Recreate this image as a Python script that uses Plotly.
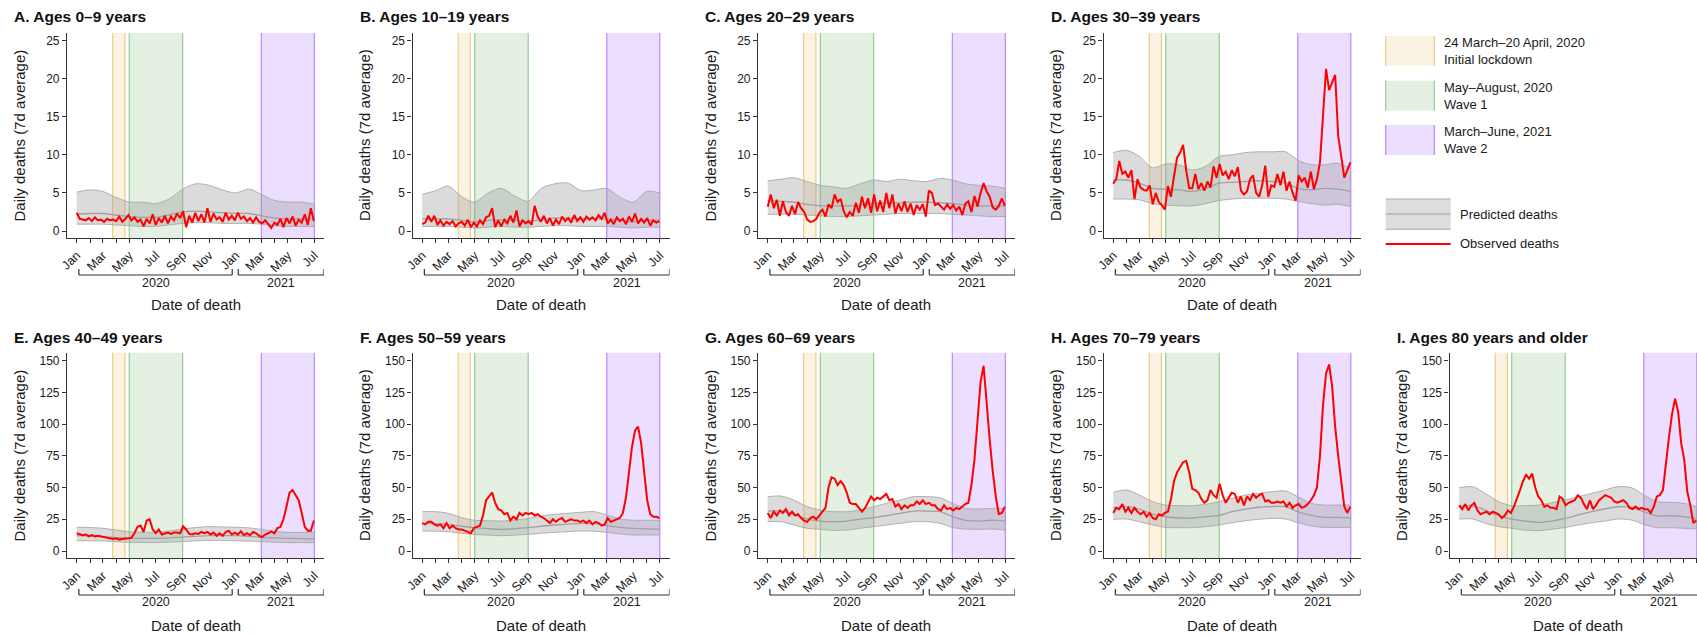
import pandas as pd
import plotly.graph_objects as go

FIG_W, FIG_H = 1697, 635
FONT = "Liberation Sans, Arial, Helvetica, sans-serif"

# ---------------------------------------------------------------- data
panel_titles = [
    "A. Ages 0–9 years", "B. Ages 10–19 years", "C. Ages 20–29 years",
    "D. Ages 30–39 years", "E. Ages 40–49 years", "F. Ages 50–59 years",
    "G. Ages 60–69 years", "H. Ages 70–79 years", "I. Ages 80 years and older",
]

# Observed deaths (7-day average), one value per week from 1 Jan 2020
obs_0_9 = [2.4, 1.6, 1.5, 1.4, 1.7, 1.3, 1.8, 1.4, 1.5, 1.2, 1.6, 1.4, 1.5,
           1.3, 1.9, 1.2, 1.6, 2.1, 1.4, 1.8, 1.2, 1.5, 0.6, 1.6, 1.0, 2.2,
           0.8, 1.7, 1.1, 2.0, 1.0, 1.9, 1.4, 2.3, 1.7, 2.6, 0.5, 2.0, 1.1,
           2.4, 1.3, 2.2, 1.1, 3.0, 1.2, 2.3, 1.5, 1.8, 1.2, 2.4, 1.5, 2.0,
           1.4, 2.4, 1.6, 1.9, 1.3, 1.7, 1.1, 1.8, 1.2, 1.0, 1.4, 0.9, 0.4,
           1.1, 0.8, 1.6, 0.5, 1.7, 1.0, 1.9, 0.7, 1.5, 1.1, 2.2, 0.8, 3.0, 1.3]
obs_10_19 = [0.9, 1.1, 2.0, 1.2, 2.0, 0.8, 1.4, 0.7, 1.2, 0.9, 1.3, 0.6, 1.0,
             1.2, 0.7, 1.5, 0.5, 1.1, 0.6, 1.4, 0.9, 1.8, 2.0, 3.0, 0.5, 1.4,
             0.6, 1.5, 1.0, 2.0, 1.1, 2.7, 0.6, 1.4, 1.0, 1.3, 0.8, 3.3, 1.9,
             1.2, 2.0, 1.0, 1.7, 0.7, 1.5, 0.9, 1.9, 1.3, 1.7, 1.1, 2.1, 1.3,
             1.8, 1.2, 1.9, 1.5, 1.8, 1.4, 2.1, 1.6, 2.4, 1.0, 1.5, 0.9, 1.8,
             1.3, 1.6, 0.9, 1.9, 1.2, 2.3, 1.0, 1.6, 1.1, 1.7, 0.7, 1.4, 1.1, 1.3]
obs_20_29 = [3.2, 4.8, 3.0, 4.1, 2.0, 3.9, 2.5, 2.0, 3.3, 2.2, 3.8, 3.0, 2.5,
             1.5, 1.2, 1.3, 1.6, 2.4, 2.8, 1.9, 3.5, 3.0, 4.8, 3.8, 4.2, 2.6,
             1.8, 2.5, 2.0, 3.7, 2.4, 4.5, 3.0, 4.3, 2.4, 4.8, 2.6, 4.0, 2.5,
             5.0, 3.0, 4.8, 2.3, 3.6, 2.6, 3.9, 2.5, 3.6, 2.1, 3.4, 2.8, 3.5,
             1.9, 5.3, 5.0, 3.4, 3.6, 3.2, 2.8, 3.5, 2.9, 3.4, 2.7, 3.2, 2.1,
             3.6, 3.9, 2.5, 4.6, 3.2, 5.0, 6.3, 5.2, 4.5, 3.1, 2.8, 3.3, 4.3, 3.3]
obs_30_39 = [6.2, 6.8, 9.2, 7.5, 7.8, 7.0, 8.0, 4.2, 6.8, 5.7, 5.4, 5.3, 6.0,
             3.5, 5.0, 3.8, 3.4, 2.8, 5.9, 4.5, 7.2, 9.6, 10.3, 11.3, 8.0, 5.6,
             5.6, 7.5, 5.5, 6.3, 5.3, 6.5, 5.7, 8.5, 7.0, 8.8, 7.3, 7.8, 6.8,
             8.0, 7.2, 8.4, 5.3, 4.8, 5.2, 6.8, 7.3, 5.0, 4.5, 6.0, 8.6, 4.5,
             6.0, 5.8, 7.5, 6.0, 7.8, 5.3, 6.5, 5.0, 4.0, 7.3, 6.5, 7.0, 5.7,
             7.8, 5.5, 6.8, 9.0, 14.5, 21.3, 18.5, 19.5, 20.5, 12.5, 10.0, 7.0, 8.0, 9.0]
obs_40_49 = [14, 13.5, 12.5, 13, 11.5, 12.5, 11.5, 12, 11.5, 11, 10.5, 9.5, 9.5,
             10, 9, 9.5, 9.5, 10, 10.5, 14, 19, 20, 15, 24, 25, 17,
             14, 17, 13, 14, 14.5, 13.5, 14.5, 14.5, 14, 19.5, 17, 13.5, 13,
             14, 13.5, 15, 14, 15, 13, 14.5, 12, 14, 12, 15, 16, 13,
             14.5, 13, 15.5, 12.5, 14, 12.5, 15, 14, 12, 11, 13, 14, 15.5,
             14, 18, 19, 25, 35, 46, 48, 44, 40, 30, 19, 16, 16, 24]
obs_50_59 = [22, 21, 23, 23, 21, 20, 21, 18, 22, 18, 20, 18, 17,
             17, 16, 15, 14, 18, 19, 20, 28, 40, 43, 46, 38, 33,
             32, 29, 30, 24, 27, 25, 30, 28, 30, 29, 30, 28, 29,
             27, 26, 24, 22, 25, 23, 25, 26, 23, 24, 25, 24, 24,
             23, 24, 22, 24, 21, 23, 22, 20, 21, 26, 23, 24, 25,
             26, 30, 42, 62, 82, 95, 98, 85, 62, 40, 29, 27, 27, 26]
obs_60_69 = [30, 26, 31, 28, 32, 30, 33, 28, 31, 28, 29, 26, 24,
             23, 26, 27, 25, 28, 31, 34, 50, 58, 57, 52, 55, 52,
             46, 38, 37, 37, 34, 31, 34, 38, 43, 40, 42, 41, 43,
             45, 40, 41, 35, 37, 33, 36, 34, 36, 36, 39, 37, 40,
             37, 38, 36, 36, 33, 32, 36, 33, 34, 32, 34, 33, 35,
             37, 38, 52, 72, 103, 133, 146, 115, 88, 63, 43, 29, 30, 35]
obs_70_79 = [30, 34, 33, 37, 31, 34, 30, 34, 31, 29, 31, 27, 30,
             26, 25, 29, 28, 30, 31, 41, 55, 62, 66, 70, 71, 62,
             49, 48, 46, 41, 38, 40, 48, 44, 42, 53, 44, 38, 42,
             46, 45, 38, 43, 36, 43, 40, 45, 42, 44, 45, 39, 40,
             38, 38, 39, 38, 39, 35, 38, 34, 36, 37, 34, 35, 37,
             40, 44, 50, 75, 115, 140, 147, 130, 98, 75, 55, 35, 30, 35]
obs_80_plus = [36, 33, 37, 32, 36, 38, 32, 29, 30, 31, 29, 31, 30,
               29, 26, 28, 32, 30, 35, 41, 48, 55, 60, 57, 61, 50,
               43, 40, 35, 36, 34, 34, 33, 43, 41, 36, 38, 39, 40,
               44, 42, 37, 33, 40, 33, 36, 40, 42, 44, 43, 42, 39,
               38, 39, 40, 38, 34, 33, 35, 33, 34, 33, 33, 30, 35,
               43, 44, 48, 70, 90, 108, 120, 110, 85, 72, 47, 36, 22, 24]

# Predicted deaths: 95% band and mean, 1st of each month Jan 2020 - Jul 2021
upper_0_9 = [5.1, 5.4, 5.2, 4.4, 3.8, 3.8, 3.6, 4.2, 5.5, 6.2, 6.0, 5.4, 5.0, 5.5, 4.8, 4.0, 3.8, 3.8, 3.5]
mean_0_9 = [2.2, 2.3, 2.3, 2.1, 1.9, 1.8, 1.8, 2.1, 2.5, 2.6, 2.5, 2.4, 2.3, 2.3, 2.0, 1.7, 1.6, 1.6, 1.6]
lower_0_9 = [0.9, 0.9, 0.9, 0.8, 0.7, 0.6, 0.6, 0.8, 1.0, 1.1, 1.1, 1.0, 1.0, 1.0, 0.9, 0.7, 0.6, 0.6, 0.6]

upper_10_19 = [4.8, 5.3, 5.9, 4.5, 3.8, 5.0, 5.6, 4.6, 3.9, 5.6, 6.2, 6.3, 5.3, 5.4, 5.6, 4.4, 3.8, 5.2, 5.0]
mean_10_19 = [1.6, 1.6, 1.6, 1.4, 1.2, 1.4, 1.5, 1.4, 1.3, 1.5, 1.7, 1.7, 1.6, 1.6, 1.6, 1.4, 1.2, 1.4, 1.4]
lower_10_19 = [0.6, 0.6, 0.6, 0.5, 0.4, 0.5, 0.6, 0.5, 0.5, 0.6, 0.7, 0.7, 0.6, 0.6, 0.6, 0.5, 0.4, 0.5, 0.5]

upper_20_29 = [6.6, 6.8, 7.0, 6.5, 6.0, 5.8, 5.6, 6.2, 6.7, 6.5, 6.8, 6.6, 6.5, 6.9, 6.7, 6.2, 6.0, 5.9, 5.6]
mean_20_29 = [4.0, 3.9, 3.8, 3.5, 3.3, 3.3, 3.3, 3.4, 3.6, 3.7, 3.7, 3.8, 3.8, 3.7, 3.6, 3.4, 3.3, 3.3, 3.3]
lower_20_29 = [2.2, 2.2, 2.2, 2.1, 2.0, 1.9, 1.9, 2.0, 2.1, 2.2, 2.3, 2.3, 2.3, 2.3, 2.2, 2.1, 2.0, 1.9, 1.9]

upper_30_39 = [10.3, 10.6, 9.8, 8.3, 8.8, 8.7, 8.0, 8.5, 9.8, 10.0, 10.3, 10.4, 10.4, 10.4, 9.3, 8.7, 8.7, 8.9, 8.2]
mean_30_39 = [6.7, 6.7, 6.3, 5.6, 5.5, 5.4, 5.2, 5.6, 6.3, 6.4, 6.5, 6.6, 6.5, 6.3, 5.6, 5.4, 5.6, 5.5, 5.2]
lower_30_39 = [4.2, 4.2, 4.1, 3.6, 3.4, 3.3, 3.3, 3.6, 4.0, 4.2, 4.3, 4.3, 4.3, 4.2, 3.9, 3.6, 3.4, 3.5, 3.2]

upper_40_49 = [18.7, 18.5, 17.9, 16.5, 15.2, 14.9, 14.7, 15.8, 17.3, 18.5, 19.2, 19.0, 18.7, 18.2, 17.0, 15.5, 14.7, 14.7, 14.7]
mean_40_49 = [12.1, 11.8, 11.3, 10.6, 10.0, 10.0, 10.0, 10.4, 11.0, 11.6, 12.1, 12.1, 12.1, 11.6, 10.8, 10.3, 10.0, 9.8, 9.5]
lower_40_49 = [8.1, 8.0, 7.9, 7.3, 6.8, 6.7, 6.6, 7.0, 7.4, 8.0, 8.4, 8.3, 8.1, 7.8, 7.4, 6.9, 6.6, 6.6, 6.6]

upper_50_59 = [31.0, 31.0, 29.7, 26.3, 24.2, 23.9, 23.6, 24.4, 25.7, 27.6, 28.9, 29.7, 30.5, 31.0, 28.4, 25.2, 24.2, 24.2, 24.2]
mean_50_59 = [21.8, 21.6, 21.0, 19.5, 18.4, 17.6, 17.1, 17.6, 18.4, 19.5, 20.5, 21.2, 21.8, 21.6, 20.0, 18.6, 17.9, 17.5, 17.3]
lower_50_59 = [15.8, 15.6, 15.2, 14.0, 13.1, 12.5, 12.1, 12.5, 13.1, 14.0, 14.7, 15.3, 15.8, 15.6, 14.7, 13.4, 12.6, 12.6, 12.6]

upper_60_69 = [42.8, 43.3, 40.2, 34.9, 32.3, 31.0, 31.0, 32.3, 34.9, 37.6, 40.2, 42.8, 42.8, 42.0, 37.6, 33.6, 33.1, 33.6, 33.6]
mean_60_69 = [31.5, 31.5, 28.9, 25.2, 23.6, 23.1, 23.6, 25.2, 26.3, 27.8, 29.7, 31.5, 31.5, 31.0, 27.1, 24.2, 23.6, 24.4, 23.6]
lower_60_69 = [23.1, 23.1, 20.5, 17.9, 17.1, 16.3, 16.5, 17.9, 19.2, 20.5, 21.8, 23.1, 23.1, 21.8, 18.6, 17.3, 17.1, 17.3, 16.5]

upper_70_79 = [46.2, 48.1, 44.1, 38.9, 36.2, 35.7, 35.7, 36.8, 38.9, 41.5, 44.1, 45.4, 46.7, 47.3, 42.8, 37.6, 36.2, 36.2, 36.2]
mean_70_79 = [34.0, 35.0, 33.0, 29.0, 27.0, 26.0, 26.0, 27.0, 28.0, 31.0, 33.0, 34.5, 35.0, 35.0, 31.0, 28.0, 26.5, 26.5, 26.0]
lower_70_79 = [25.0, 25.2, 23.1, 20.5, 18.6, 18.4, 18.4, 19.2, 20.5, 22.3, 23.9, 25.0, 25.7, 25.2, 22.3, 19.7, 18.6, 18.6, 18.6]

upper_80_plus = [49.9, 50.7, 45.4, 38.9, 35.7, 35.7, 36.2, 38.1, 40.2, 42.8, 45.4, 48.1, 50.7, 49.9, 44.1, 38.9, 38.4, 37.6, 34.9]
mean_80_plus = [35.5, 35.5, 32.3, 27.8, 25.2, 23.6, 22.6, 23.6, 25.7, 28.4, 31.0, 33.1, 34.9, 34.4, 31.0, 27.6, 27.8, 27.1, 25.2]
lower_80_plus = [25.2, 25.2, 21.8, 19.2, 17.9, 16.5, 16.0, 17.1, 18.6, 20.5, 22.3, 23.6, 25.2, 24.4, 21.0, 18.4, 18.4, 17.9, 17.3]

# Highlighted periods
period_starts = ["2020-03-24", "2020-05-01", "2021-03-01"]
period_ends = ["2020-04-21", "2020-09-01", "2021-07-01"]
period_labels = ["24 March–20 April, 2020<br>Initial lockdown",
                 "May–August, 2020<br>Wave 1",
                 "March–June, 2021<br>Wave 2"]
year_labels = ["2020", "2021"]

# ---------------------------------------------------------------- style
period_fills = ["#FBF3E2", "#E3F0E2", "#EBDEFF"]
period_edges = ["#EDC77E", "#8DC78D", "#B580FF"]
BAND_FILL = "rgba(150,150,150,0.34)"
BAND_LINE = "#A8A8A8"
MEAN_LINE = "#A0A0A0"
OBS_RED = "#FF0000"
AXIS_COL = "#333333"
TEXT_COL = "#1A1A1A"

panels = [
    (panel_titles[0], obs_0_9, upper_0_9, mean_0_9, lower_0_9),
    (panel_titles[1], obs_10_19, upper_10_19, mean_10_19, lower_10_19),
    (panel_titles[2], obs_20_29, upper_20_29, mean_20_29, lower_20_29),
    (panel_titles[3], obs_30_39, upper_30_39, mean_30_39, lower_30_39),
    (panel_titles[4], obs_40_49, upper_40_49, mean_40_49, lower_40_49),
    (panel_titles[5], obs_50_59, upper_50_59, mean_50_59, lower_50_59),
    (panel_titles[6], obs_60_69, upper_60_69, mean_60_69, lower_60_69),
    (panel_titles[7], obs_70_79, upper_70_79, mean_70_79, lower_70_79),
    (panel_titles[8], obs_80_plus, upper_80_plus, mean_80_plus, lower_80_plus),
]

# ---------------------------------------------------------------- geometry (px)
COL_X = [67, 412.5, 758, 1103.5, 1449.5]
AXIS_W = 257
ROWS = [
    dict(top=33, bottom=238, yrange=[-0.92, 26.01], ytick=list(range(0, 26, 5)),
         title_y=16.7, bracket_y=275, year_y=283.3, xtitle_y=304),
    dict(top=352.7, bottom=558.3, yrange=[-5.75, 156.3], ytick=list(range(0, 151, 25)),
         title_y=337.7, bracket_y=595, year_y=601.5, xtitle_y=625),
]
PAD_DAYS = 22.3
x_start = pd.Timestamp("2020-01-01") - pd.Timedelta(days=PAD_DAYS)
x_full_end = pd.Timestamp("2021-07-01") + pd.Timedelta(days=PAD_DAYS)
DAYS_PER_PX = (x_full_end - x_start).total_seconds() / 86400 / AXIS_W
bracket_spans = [(pd.Timestamp("2020-01-06"), pd.Timestamp("2020-12-24")),
                 (pd.Timestamp("2021-01-07"), x_full_end)]


def px(x):
    return x / FIG_W


def py(y):
    return 1 - y / FIG_H


def ts(t):
    return pd.Timestamp(t).strftime("%Y-%m-%d %H:%M:%S")


fig = go.Figure()
shapes, annotations = [], []
layout_axes = {}
font_base = dict(family=FONT, color=TEXT_COL)

for i, (title, obs, upper, mean, lower) in enumerate(panels):
    n = i + 1
    row = ROWS[0] if i < 4 else ROWS[1]
    col = i if i < 4 else i - 4
    xa = "x" if n == 1 else f"x{n}"
    ya = "y" if n == 1 else f"y{n}"
    x0 = COL_X[col]
    x1 = min(x0 + AXIS_W, FIG_W)
    x_end = x_start + pd.Timedelta(days=(x1 - x0) * DAYS_PER_PX)

    week_dates = pd.date_range("2020-01-01", periods=len(obs), freq="7D")
    month_dates = pd.date_range("2020-01-01", periods=len(upper), freq="MS")

    common = dict(xaxis=xa, yaxis=ya, hoverinfo="skip", showlegend=False)
    fig.add_trace(go.Scatter(x=month_dates, y=lower, mode="lines",
                             line=dict(color=BAND_LINE, width=0.9, shape="spline", smoothing=0.8),
                             **common))
    fig.add_trace(go.Scatter(x=month_dates, y=upper, mode="lines", fill="tonexty",
                             fillcolor=BAND_FILL,
                             line=dict(color=BAND_LINE, width=0.9, shape="spline", smoothing=0.8),
                             **common))
    fig.add_trace(go.Scatter(x=month_dates, y=mean, mode="lines",
                             line=dict(color=MEAN_LINE, width=1.3, shape="spline", smoothing=0.8),
                             **common))
    fig.add_trace(go.Scatter(x=week_dates, y=obs, mode="lines",
                             line=dict(color=OBS_RED, width=2), **common))

    tick_style = dict(ticks="outside", ticklen=4, tickwidth=1, tickcolor=AXIS_COL,
                      showline=True, linecolor=AXIS_COL, linewidth=1.2,
                      showgrid=False, zeroline=False, automargin=False, fixedrange=True)
    layout_axes["xaxis" if n == 1 else f"xaxis{n}"] = dict(
        domain=[px(x0), px(x1)], anchor=ya, type="date",
        range=[ts(x_start), ts(x_end)],
        tick0="2020-01-01", dtick="M2", tickformat="%b", tickangle=-45,
        tickfont=dict(family=FONT, size=12.5, color=TEXT_COL),
        minor=dict(tick0="2020-01-01", dtick="M1", ticks="outside", ticklen=4,
                   tickwidth=1, tickcolor=AXIS_COL, showgrid=False),
        **tick_style)
    layout_axes["yaxis" if n == 1 else f"yaxis{n}"] = dict(
        domain=[py(row["bottom"]), py(row["top"])], anchor=xa,
        range=row["yrange"], tickmode="array", tickvals=row["ytick"],
        tickfont=dict(family=FONT, size=12, color=TEXT_COL),
        **tick_style)

    # shaded periods with coloured edges
    for s, e, fc, ec in zip(period_starts, period_ends, period_fills, period_edges):
        shapes.append(dict(type="rect", xref=xa, yref=f"{ya} domain", x0=s, x1=e,
                           y0=0, y1=1, fillcolor=fc, line=dict(width=0), layer="below"))
        for xv in (s, e):
            shapes.append(dict(type="line", xref=xa, yref=f"{ya} domain", x0=xv, x1=xv,
                               y0=0, y1=1, line=dict(color=ec, width=1.1), layer="below"))

    # year brackets under the date axis
    by = py(row["bracket_y"])
    bt = py(row["bracket_y"] - 6)
    for (bs, be), label in zip(bracket_spans, year_labels):
        be_draw = min(be, x_end)
        line = dict(color=AXIS_COL, width=1.2)
        shapes.append(dict(type="line", xref=xa, yref="paper", x0=ts(bs), x1=ts(be_draw),
                           y0=by, y1=by, line=line))
        shapes.append(dict(type="line", xref=xa, yref="paper", x0=ts(bs), x1=ts(bs),
                           y0=by, y1=bt, line=line))
        if be <= x_end:
            shapes.append(dict(type="line", xref=xa, yref="paper", x0=ts(be), x1=ts(be),
                               y0=by, y1=bt, line=line))
        annotations.append(dict(text=label, xref=xa, yref="paper", x=ts(bs + (be - bs) / 2),
                                y=py(row["year_y"]), xanchor="center", yanchor="middle",
                                showarrow=False, font=dict(size=12.5, **font_base)))

    # panel title and axis titles
    annotations.append(dict(text=f"<b>{title}</b>", xref="paper", yref="paper",
                            x=px(x0 - 55), y=py(row["title_y"]), xanchor="left",
                            yanchor="middle", showarrow=False,
                            font=dict(size=15.5, family=FONT, color="#111111")))
    annotations.append(dict(text="Daily deaths (7d average)", xref="paper", yref="paper",
                            x=px(x0 - 48), y=py((row["top"] + row["bottom"]) / 2),
                            xanchor="center", yanchor="middle", textangle=-90,
                            showarrow=False, font=dict(size=15, **font_base)))
    annotations.append(dict(text="Date of death", xref="paper", yref="paper",
                            x=px(x0 + AXIS_W / 2), y=py(row["xtitle_y"]),
                            xanchor="center", yanchor="middle", showarrow=False,
                            font=dict(size=15, **font_base)))

# ---------------------------------------------------------------- legend
LEG_X0, LEG_X1, LEG_X2 = 1385.7, 1434.3, 1450.7
swatch_rows = [(36, 65.7), (80.7, 110.7), (125, 155)]
for (t, b), fc, ec, label in zip(swatch_rows, period_fills, period_edges, period_labels):
    shapes.append(dict(type="rect", xref="paper", yref="paper", x0=px(LEG_X0), x1=px(LEG_X1),
                       y0=py(b), y1=py(t), fillcolor=fc, line=dict(width=0)))
    for xv in (LEG_X0, LEG_X1):
        shapes.append(dict(type="line", xref="paper", yref="paper", x0=px(xv), x1=px(xv),
                           y0=py(b), y1=py(t), line=dict(color=ec, width=1.1)))
    annotations.append(dict(text=label, xref="paper", yref="paper", x=px(1441.5),
                            y=py((t + b) / 2), xanchor="left", yanchor="middle", align="left",
                            showarrow=False, font=dict(size=13, **font_base)))

shapes.append(dict(type="rect", xref="paper", yref="paper", x0=px(LEG_X0), x1=px(LEG_X2),
                   y0=py(229.3), y1=py(199), fillcolor="#DDDDDD", line=dict(width=0)))
for yv, col in ((199, BAND_LINE), (214, MEAN_LINE), (229.3, BAND_LINE)):
    shapes.append(dict(type="line", xref="paper", yref="paper", x0=px(LEG_X0), x1=px(LEG_X2),
                       y0=py(yv), y1=py(yv), line=dict(color=col, width=1.1)))
shapes.append(dict(type="line", xref="paper", yref="paper", x0=px(LEG_X0), x1=px(LEG_X2),
                   y0=py(244), y1=py(244), line=dict(color=OBS_RED, width=2)))
annotations.append(dict(text="Predicted deaths", xref="paper", yref="paper", x=px(1457.5),
                        y=py(214), xanchor="left", yanchor="middle", showarrow=False,
                        font=dict(size=13, **font_base)))
annotations.append(dict(text="Observed deaths", xref="paper", yref="paper", x=px(1457.5),
                        y=py(244), xanchor="left", yanchor="middle", showarrow=False,
                        font=dict(size=13, **font_base)))

fig.update_layout(
    width=FIG_W, height=FIG_H, autosize=False,
    margin=dict(l=0, r=0, t=0, b=0, pad=0),
    paper_bgcolor="white", plot_bgcolor="white",
    font=dict(family=FONT, color=TEXT_COL),
    showlegend=False, hovermode=False,
    shapes=shapes, annotations=annotations,
    **layout_axes,
)

fig.write_html("out.html")
